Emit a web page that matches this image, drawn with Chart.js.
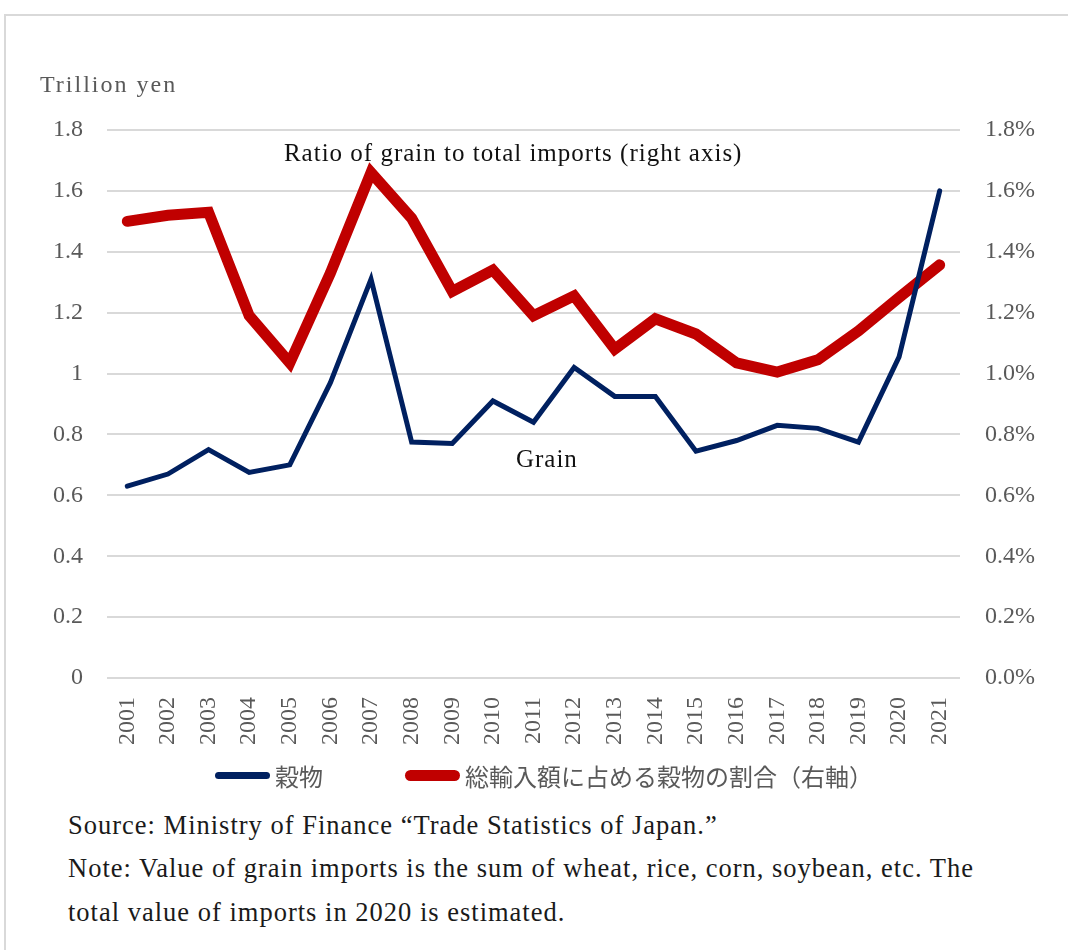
<!DOCTYPE html>
<html>
<head>
<meta charset="utf-8">
<script src="https://cdn.jsdelivr.net/npm/chart.js@4.4.1/dist/chart.umd.min.js"></script>
<style>
  body { margin: 0; background: #fff; }
  #page { position: relative; width: 1068px; height: 950px; overflow: hidden; }
  #frame { position: absolute; left: 4px; top: 14px; width: 1100px; height: 1000px;
    border-left: 2px solid #d9d9d9; border-top: 2px solid #d9d9d9; }
  #chart-box { position: absolute; left: 0; top: 0; width: 1068px; height: 760px; }
  #legend { position: absolute; left: 215px; top: 760px; height: 30px; display: flex; align-items: center;
    font-family: "Noto Sans CJK JP", sans-serif; font-size: 24px; color: #595959; white-space: nowrap; }
  .legend-item { display: flex; align-items: center; }
  .legend-line { display: inline-block; width: 55px; margin-right: 5px; }
  .note { position: absolute; left: 68px; font-family: "Liberation Serif", serif; font-size: 26.5px;
    letter-spacing: 1px; color: #1a1a1a; white-space: nowrap; }
</style>
</head>
<body>
<div id="page">
  <div id="frame"></div>
  <div id="chart-box"><canvas id="myChart" width="1068" height="760"></canvas></div>
  <div id="legend"></div>
  <div class="note" style="top:810px">Source: Ministry of Finance “Trade Statistics of Japan.”</div>
  <div class="note" style="top:853px">Note: Value of grain imports is the sum of wheat, rice, corn, soybean, etc. The</div>
  <div class="note" style="top:897px">total value of imports in 2020 is estimated.</div>
</div>
<script>
const years = ['2001', '2002', '2003', '2004', '2005', '2006', '2007', '2008', '2009', '2010', '2011',
  '2012', '2013', '2014', '2015', '2016', '2017', '2018', '2019', '2020', '2021']
// trillion yen
const grain = [0.63, 0.67, 0.75, 0.675, 0.70, 0.97, 1.31, 0.775, 0.77, 0.91, 0.84,
  1.02, 0.925, 0.925, 0.745, 0.78, 0.83, 0.82, 0.775, 1.055, 1.60]
// percent of total imports
const ratio = [1.50, 1.52, 1.53, 1.19, 1.035, 1.33, 1.66, 1.51, 1.27, 1.34, 1.19,
  1.255, 1.08, 1.18, 1.13, 1.035, 1.005, 1.045, 1.14, 1.25, 1.357]
const leftTicks = [0, 0.2, 0.4, 0.6, 0.8, 1, 1.2, 1.4, 1.6, 1.8]
const rightTicks = [0, 0.2, 0.4, 0.6, 0.8, 1.0, 1.2, 1.4, 1.6, 1.8]
const seriesNames = ['穀物', '総輸入額に占める穀物の割合（右軸）']
// in-chart labels: [text, category index, left axis value]
const notes = [
  ['Ratio of grain to total imports (right axis)', 9.5, 1.72],
  ['Grain', 10.33, 0.716]
]

const serif = '"Liberation Serif", "Noto Sans CJK JP", serif'
const grey = '#595959'

const textPlugin = {
  id: 'chartText',
  afterDatasetsDraw(chart) {
    let ctx = chart.ctx
    let x = chart.scales.x
    let y = chart.scales.y
    ctx.save()
    ctx.font = '24px ' + serif
    ctx.letterSpacing = '2px'
    ctx.fillStyle = grey
    ctx.textAlign = 'left'
    ctx.textBaseline = 'middle'
    ctx.fillText('Trillion yen', 40, 86)
    ctx.font = '25px ' + serif
    ctx.letterSpacing = '1px'
    ctx.fillStyle = '#111'
    ctx.textAlign = 'center'
    notes.forEach(n => {
      ctx.fillText(n[0], x.getPixelForValue(n[1]), y.getPixelForValue(n[2]))
    })
    ctx.restore()
  }
}

function renderLegend(chart) {
  let legendDiv = document.querySelector('#legend')
  legendDiv.innerHTML = ''
  chart.data.datasets.forEach((ds, i) => {
    let item = document.createElement('span')
    item.className = 'legend-item'
    let line = document.createElement('span')
    line.className = 'legend-line'
    let thick = i === 0 ? 7 : 11
    line.style.height = thick + 'px'
    line.style.borderRadius = thick + 'px'
    line.style.background = ds.borderColor
    let label = document.createElement('span')
    label.innerText = ds.label
    if (i === 0) item.style.marginRight = '82px'
    item.append(line, label)
    legendDiv.append(item)
  })
}

var ctx = document.querySelector('#myChart').getContext('2d')
var myLineChart = new Chart(ctx, {
  type: 'line',
  data: {
    labels: years,
    datasets: [{
      label: seriesNames[0],
      data: grain,
      yAxisID: 'y',
      borderColor: '#002060',
      borderWidth: 5,
      borderCapStyle: 'round',
      pointRadius: 0,
      order: 1
    }, {
      label: seriesNames[1],
      data: ratio,
      yAxisID: 'y2',
      borderColor: '#c00000',
      borderWidth: 11,
      borderCapStyle: 'round',
      pointRadius: 0,
      order: 2
    }]
  },
  options: {
    responsive: false,
    animation: false,
    layout: { padding: { top: 130, bottom: 2, left: 0, right: 0 } },
    plugins: {
      legend: { display: false },
      tooltip: { enabled: false }
    },
    scales: {
      x: {
        offset: true,
        grid: { display: false, drawTicks: false },
        border: { display: false },
        ticks: {
          autoSkip: false,
          minRotation: 90,
          maxRotation: 90,
          padding: 19,
          color: grey,
          font: { family: serif, size: 24 }
        },
        afterFit(scale) { scale.height = 80 }
      },
      y: {
        position: 'left',
        min: 0,
        max: 1.8,
        grid: { color: '#d9d9d9', lineWidth: 2, drawTicks: false },
        border: { display: false },
        afterBuildTicks(scale) { scale.ticks = leftTicks.map(v => ({ value: v })) },
        ticks: {
          padding: 24,
          color: grey,
          font: { family: serif, size: 24 },
          callback: v => String(v)
        },
        afterFit(scale) { scale.width = 107 }
      },
      y2: {
        position: 'right',
        min: 0,
        max: 1.8,
        grid: { drawOnChartArea: false, drawTicks: false },
        border: { display: false },
        afterBuildTicks(scale) { scale.ticks = rightTicks.map(v => ({ value: v })) },
        ticks: {
          padding: 25,
          color: grey,
          font: { family: serif, size: 24 },
          callback: v => v.toFixed(1) + '%'
        },
        afterFit(scale) { scale.width = 108 }
      }
    }
  },
  plugins: [textPlugin]
})
renderLegend(myLineChart)
</script>
</body>
</html>
